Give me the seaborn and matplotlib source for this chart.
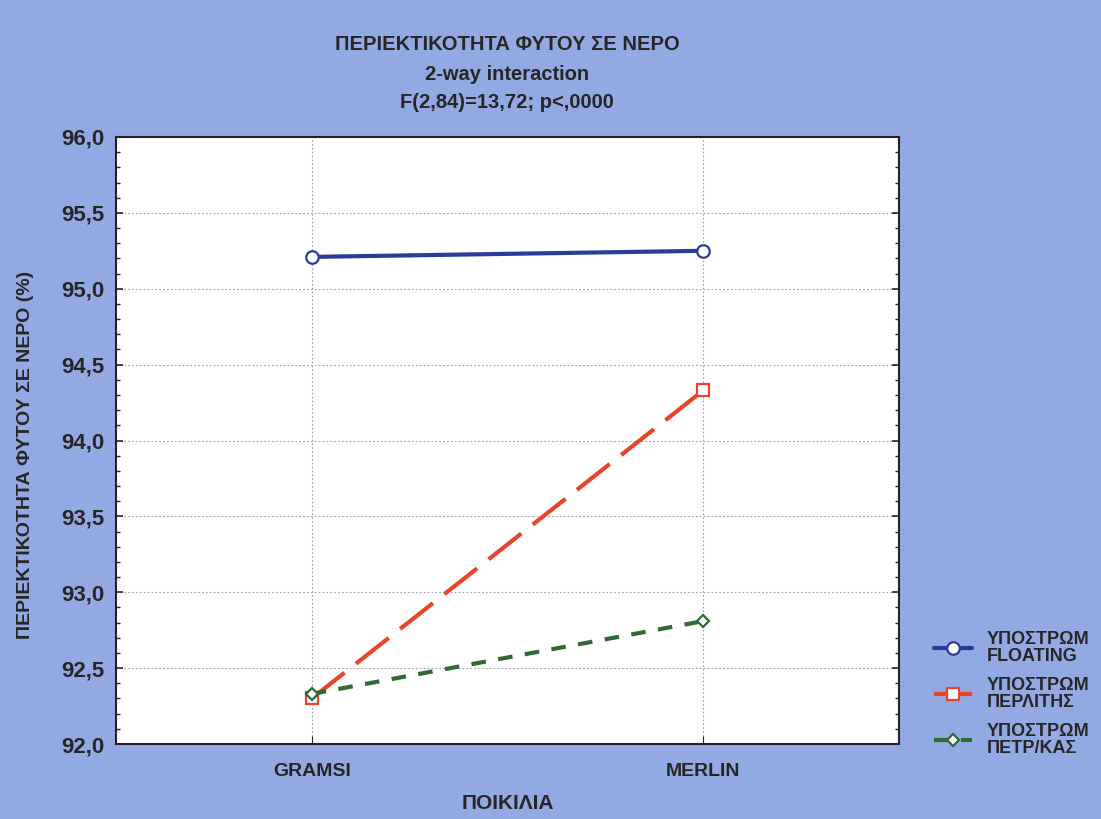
import matplotlib
matplotlib.use("Agg")
import matplotlib.pyplot as plt
import seaborn as sns
from matplotlib.ticker import MultipleLocator, FuncFormatter

# δεδομένα
poikilies = ["GRAMSI", "MERLIN"]
floating = [95.21, 95.25]
perlitis = [92.30, 94.33]
petrkas = [92.33, 92.81]
etiketes = ["ΥΠΟΣΤΡΩΜ\nFLOATING", "ΥΠΟΣΤΡΩΜ\nΠΕΡΛΙΤΗΣ", "ΥΠΟΣΤΡΩΜ\nΠΕΤΡ/ΚΑΣ"]

sns.set_style("white")
plt.rcParams["font.family"] = ["Liberation Sans Narrow", "Liberation Sans", "DejaVu Sans"]
plt.rcParams["font.weight"] = "bold"

bg = "#93a9e3"
fig = plt.figure(figsize=(11.01, 8.19), dpi=100, facecolor=bg)
ax = fig.add_axes([116 / 1101, 1 - 744 / 819, (899 - 116) / 1101, (744 - 137) / 819])
ax.set_facecolor("white")

# serie: wartosci, kolor, marker, kreski
serie = [
    (floating, "#2a3b9c", "o", "", 9),
    (perlitis, "#e8432b", "s", (10, 3.5), 9),
    (petrkas, "#2f6a34", "D", (3.5, 3), 6),
]
for (wart, kol, mk, dash, ms), lab in zip(serie, etiketes):
    sns.lineplot(x=poikilies, y=wart, ax=ax, color=kol, marker=mk, markersize=ms,
                 linewidth=3, sort=False, label=lab)
    line = ax.lines[-1]
    if dash:
        line.set_dashes(dash)
    line.set_markerfacecolor("white")
    line.set_markeredgecolor(kol)
    line.set_markeredgewidth(1.6)
    line.set_zorder(3)

ax.set_xlim(-0.5, 1.5)
ax.set_ylim(92.0, 96.0)
ax.yaxis.set_major_locator(MultipleLocator(0.5))
ax.yaxis.set_minor_locator(MultipleLocator(0.1))
ax.yaxis.set_major_formatter(FuncFormatter(lambda v, p: f"{v:.1f}".replace(".", ",")))
ax.grid(True, which="major", color="#a0a0a0", linestyle=(0, (1.5, 2)), linewidth=0.8)
ax.tick_params(axis="y", which="both", left=True, right=True, direction="in",
               labelsize=16, pad=8)
ax.tick_params(axis="y", which="major", length=5, width=1.2)
ax.tick_params(axis="y", which="minor", length=3, width=1)
ax.tick_params(axis="x", bottom=True, direction="in", length=6, labelsize=14, pad=14)
for lbl in ax.get_xticklabels() + ax.get_yticklabels():
    lbl.set_fontweight("bold")
for s in ax.spines.values():
    s.set_color("#222222")
    s.set_linewidth(1.5)

ax.set_xlabel("ΠΟΙΚΙΛΙΑ", fontsize=15, fontweight="bold", labelpad=10)
ax.set_ylabel("")
fig.text(26 / 1101, 1 - 455 / 819, "ΠΕΡΙΕΚΤΙΚΟΤΗΤΑ ΦΥΤΟΥ ΣΕ ΝΕΡΟ (%)", rotation=90,
         ha="center", va="center", fontsize=14, fontweight="bold")

fig.text(507 / 1101, 1 - 45 / 819, "ΠΕΡΙΕΚΤΙΚΟΤΗΤΑ ΦΥΤΟΥ ΣΕ ΝΕΡΟ", ha="center",
         va="center", fontsize=14.5, fontweight="bold")
fig.text(507 / 1101, 1 - 74 / 819, "2-way interaction", ha="center",
         va="center", fontsize=14.5, fontweight="bold")
fig.text(507 / 1101, 1 - 103 / 819, "F(2,84)=13,72; p<,0000", ha="center",
         va="center", fontsize=14.5, fontweight="bold")

h, l = ax.get_legend_handles_labels()
ax.get_legend().remove()
leg = fig.legend(h, l, loc="upper left", bbox_to_anchor=(927 / 1101, 1 - 624 / 819),
                 frameon=False, fontsize=13, handlelength=2.1, handletextpad=0.8,
                 labelspacing=0.7, borderaxespad=0)
for t in leg.get_texts():
    t.set_fontweight("bold")
    t.set_linespacing(0.95)

fig.savefig("out.png", dpi=100, facecolor=bg)
